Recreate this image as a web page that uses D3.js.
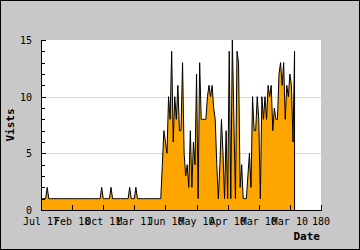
<!DOCTYPE html>
<html>
  <head>
    <meta charset="utf-8">
    <script src="https://cdn.jsdelivr.net/npm/d3@7"></script>
    <style>
      body { margin: 0; }
      text { font-family: "DejaVu Sans Mono", monospace; font-size: 10px; fill: #000; }
      .title { font-weight: bold; font-size: 11px; }
    </style>
  </head>
  <body>
    <svg id="chart"></svg>
    <script>

    var width = 360
    var height = 250

    // visits per day, index 0..164
    var early = [1,1,1,1,2,1,1,1,1,1, 1,1,1,1,1,1,1,1,1,1,
                 1,1,1,1,1,1,1,1,1,1, 1,1,1,1,1,1,1,1,1,2,
                 1,1,1,1,1,2,1,1,1,1, 1,1,1,1,1,1,1,2,1,1,
                 1,2,1,1,1,1,1,1,1,1, 1,1,1,1,1,1,1,1,4]
    var late = [7,6,5,10,8,14,6,10,8,11, 7,7,13,5,3,4,2,7,2,6,
                4,12,1,13,8,8,8,8,10,11, 10,11,9,8,4,1,4,8,5,1,
                7,1,14,1,15,8,1,14,13,2, 4,1,1,1,3,5,2,10,7,7,
                10,8,1,10,8,10,8,11,10,11, 7,9,8,8,12,13,11,13,8,11,
                10,12,11,6,14]
    var visits = early.concat(late)

    var tickIndex = [0,20,40,60,80,100,120,140,160,180]
    var tickLabels = ["Jul 17","Feb 18","Oct 11","Mar 11","Jun 10","May 10","Apr 10","Mar 10","Mar 10","180"]
    var yTicks = [0,5,10,15]

    var svg = d3.select("#chart")
      .attr("width", width)
      .attr("height", height)

    // background and frame
    svg.append("rect")
      .attr("x", 0.5).attr("y", 0.5)
      .attr("width", width - 1).attr("height", height - 1)
      .attr("fill", "#c8c8c8")
      .attr("stroke", "#000")

    // plot box (window.top is read-only, so don't call it "top")
    var pLeft = 41, pRight = 321, pTop = 40, pBottom = 210

    var x = d3.scaleLinear().domain([0, 180]).range([pLeft, pRight])
    var y = d3.scaleLinear().domain([0, 15]).range([pBottom, pTop])

    svg.append("rect")
      .attr("x", pLeft).attr("y", pTop)
      .attr("width", pRight - pLeft).attr("height", pBottom - pTop)
      .attr("fill", "#fff")

    // grid
    svg.append("g").selectAll("line")
      .data([5, 10])
      .enter().append("line")
      .attr("x1", pLeft).attr("x2", pRight)
      .attr("y1", function(d) { return Math.round(y(d)) + 0.5 })
      .attr("y2", function(d) { return Math.round(y(d)) + 0.5 })
      .attr("stroke", "#d8d8d8")

    var pts = visits.map(function(v, i) { return [i, v] })

    var area = d3.area()
      .x(function(d) { return x(d[0]) })
      .y0(y(0))
      .y1(function(d) { return y(d[1]) })

    svg.append("path")
      .datum(pts)
      .attr("d", area)
      .attr("fill", "#ffa500")

    var line = d3.line()
      .x(function(d) { return x(d[0]) })
      .y(function(d) { return y(d[1]) })

    // outline runs down to the axis at the last point
    var outline = pts.concat([[visits.length - 1, 0]])
    svg.append("path")
      .datum(outline)
      .attr("d", line)
      .attr("fill", "none")
      .attr("stroke", "#000")
      .attr("stroke-width", 1)

    // y axis
    var yAxis = svg.append("g")
    yAxis.append("line")
      .attr("x1", pLeft + 0.5).attr("x2", pLeft + 0.5)
      .attr("y1", pTop).attr("y2", pBottom + 1)
      .attr("stroke", "#000")
    yAxis.selectAll(".minor")
      .data(d3.range(0, 16))
      .enter().append("line")
      .attr("x1", pLeft).attr("x2", function(d) { return d % 5 == 0 ? pLeft + 5 : pLeft + 4 })
      .attr("y1", function(d) { return Math.round(y(d)) + 0.5 })
      .attr("y2", function(d) { return Math.round(y(d)) + 0.5 })
      .attr("stroke", "#000")
    yAxis.selectAll("text")
      .data(yTicks)
      .enter().append("text")
      .attr("x", 32)
      .attr("y", function(d) { return y(d) + 4 })
      .attr("text-anchor", "end")
      .text(function(d) { return d })

    // x axis
    var xAxis = svg.append("g")
    xAxis.append("line")
      .attr("x1", pLeft).attr("x2", pRight + 1)
      .attr("y1", pBottom + 0.5).attr("y2", pBottom + 0.5)
      .attr("stroke", "#000")
    xAxis.selectAll(".tick")
      .data(tickIndex)
      .enter().append("line")
      .attr("x1", function(d) { return Math.round(x(d)) + 0.5 })
      .attr("x2", function(d) { return Math.round(x(d)) + 0.5 })
      .attr("y1", pBottom).attr("y2", pBottom - 5)
      .attr("stroke", "#000")
    xAxis.selectAll("text")
      .data(tickIndex)
      .enter().append("text")
      .attr("x", function(d) { return x(d) })
      .attr("y", 225)
      .attr("text-anchor", "middle")
      .text(function(d, i) { return tickLabels[i] })

    svg.append("text")
      .attr("class", "title")
      .attr("x", 320).attr("y", 240)
      .attr("text-anchor", "end")
      .text("Date")

    svg.append("text")
      .attr("class", "title")
      .attr("transform", "translate(14," + (pTop + pBottom) / 2 + ") rotate(-90)")
      .attr("text-anchor", "middle")
      .text("Vists")

    </script>
  </body>
</html>
